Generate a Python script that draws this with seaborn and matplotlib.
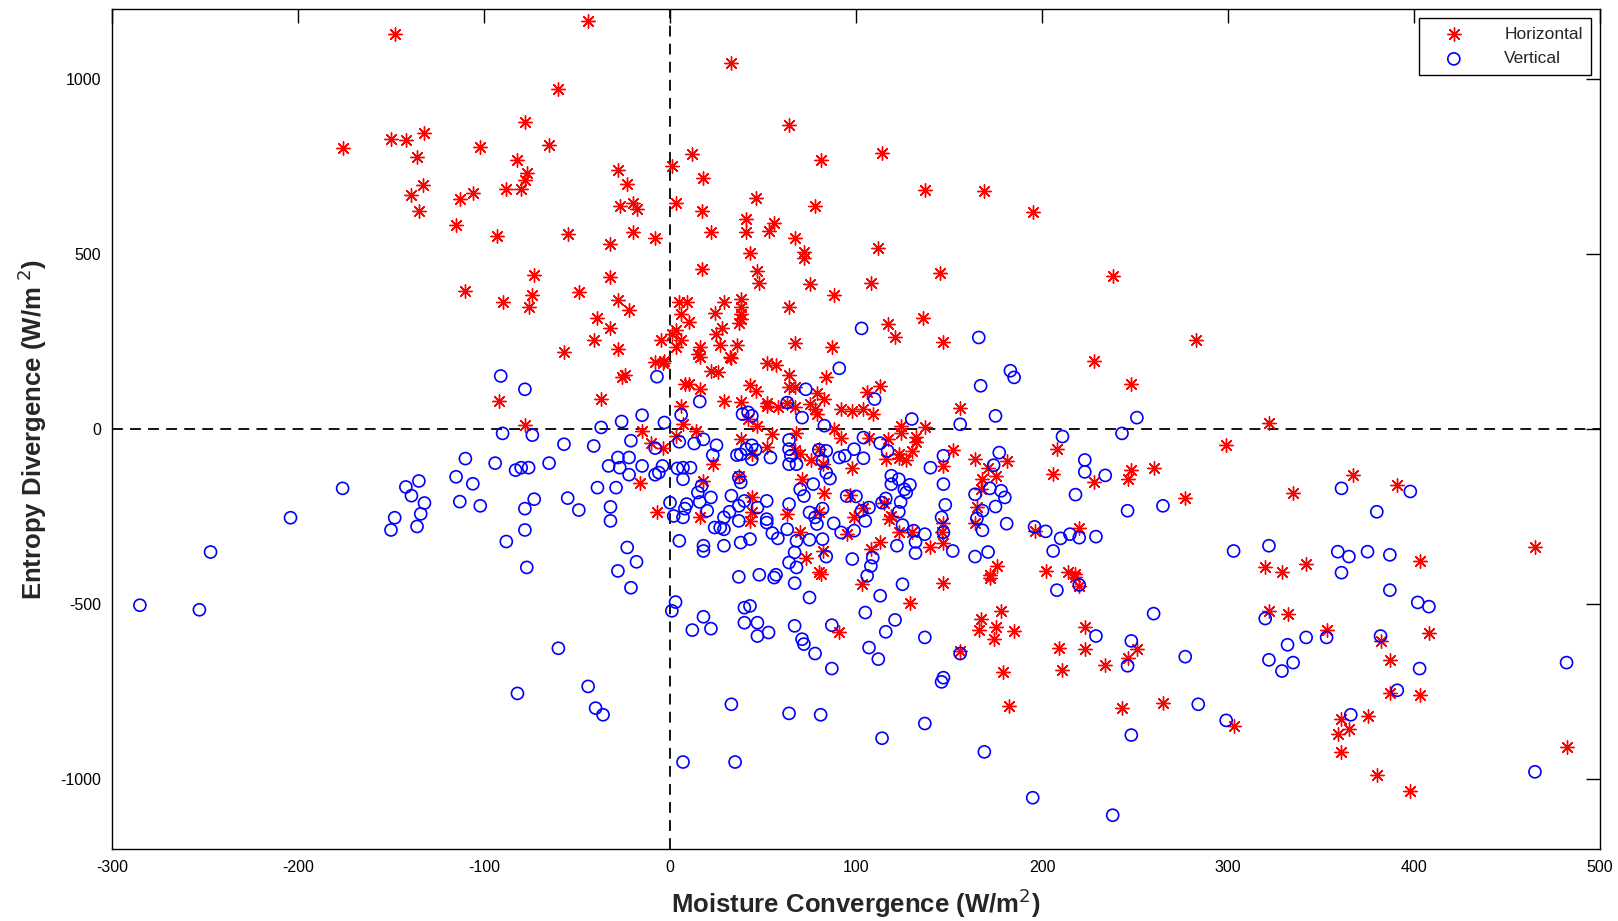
import matplotlib
matplotlib.use("Agg")
import matplotlib.pyplot as plt
import seaborn as sns

# Horizontal (red asterisks)
horiz_x = [-148, -176, -150, -142, -132, -102, -136, -133, -139, -135, -113, -106, -115, -110,
           -44, 33, -60, -78, 64, -65, -82, 12, 81, 1, -28, -77, -78, -23, 18, -88, -80, 46, 3,
           -27, -20, -18, 17, 78, 41, 41, 56, 53, 22, 67, -93, -55, -20, -8, -32, 72, 72, 43,
           -73, -32, 17, 47, 48, 75, 108,
           114, 137, 169, 195, 112, 145, 238,
           -90, -74, -76, -49, -28, -22, -39, -32, -41, -28, -57, -24, -26, -92, -37, -78, -15,
           -10, -4, -16, -7, 5, 9, 6, 10, 3, 6, 3, -5, 1, -8, -3, -4, 8, 10, 16, 6, 7, 14, 3,
           29, 38, 38, 38, 38, 37, 24, 28, 25, 27, 36, 16, 15, 16, 32, 33, 22, 26, 64, 88, 67,
           87, 52, 57, 64, 84, 43, 46, 64, 67, 79, 83, 29, 38, 52, 52, 58, 63, 67, 75, 78, 79,
           92, 98, 104, 106, 42, 47, 55, 68, 88, 92, 38, 52, 44, 67, 70, 76, 80, 82, 98, 23, 18,
           37, 71, 83, 97, 44, 44, 43, 16, 63, 80, 99, 104, 70, 95, 82, 73, 80,
           117, 136, 121, 147, 283, 228, 248, 156, 113, 109, 124, 124, 137, 132, 132, 130, 117,
           107, 123, 123, 127, 116, 152, 147, 164, 171, 175, 168, 181, 167, 165, 164, 147, 146,
           147, 140, 130, 123, 119, 118, 115, 113, 108, 176, 172, 208, 206, 228, 246, 248, 260,
           299, 277, 220, 196, 202, 214, 218,
           322, 335, 367, 391, 465, 320, 329, 342, 403,
           81, 103, 91,
           147, 172, 218, 220, 129, 178, 167, 166, 175, 174, 185, 156, 179, 182, 209, 211, 223,
           223, 234, 246, 251, 243, 265, 303,
           322, 332, 353, 382, 387, 408, 387, 403, 361, 375, 365, 359, 361, 380, 398, 482]
horiz_y = [1129, 804, 829, 825, 846, 807, 778, 699, 669, 622, 659, 676, 583, 395,
           1166, 1047, 971, 879, 870, 812, 769, 787, 769, 753, 740, 731, 712, 702, 719, 685, 685,
           660, 647, 639, 645, 629, 622, 639, 600, 562, 589, 566, 562, 546, 553, 559, 563, 546,
           529, 505, 490, 503, 440, 436, 457, 452, 418, 415, 418,
           789, 684, 680, 621, 519, 447, 439,
           364, 383, 350, 393, 368, 340, 317, 288, 254, 229, 221, 154, 150, 80, 86, 11, -5, -40,
           -55, -155, -236, 364, 364, 328, 305, 284, 255, 235, 254, 271, 192, 194, 188, 128, 130,
           116, 67, 14, -5, -19, 364, 371, 348, 328, 314, 303, 333, 288, 271, 240, 240, 235, 214,
           205, 205, 202, 167, 164, 348, 384, 246, 236, 190, 183, 154, 150, 126, 109, 121, 121,
           102, 86, 81, 79, 76, 65, 62, 76, 62, 71, 57, 43, 57, 52, 59, 105, 29, 10, -14, -10, 0,
           -24, -29, -51, -72, -59, -72, -89, -57, -100, -110, -100, -148, -133, -141, -181,
           -189, -195, -236, -262, -252, -243, -236, -252, -224, -295, -300, -348, -367, -407,
           300, 317, 262, 249, 254, 195, 128, 60, 124, 43, 10, -10, 5, -21, -38, -62, -29, -24,
           -72, -81, -88, -86, -60, -105, -84, -110, -135, -143, -92, -172, -221, -269, -269,
           -295, -324, -338, -295, -295, -248, -257, -210, -322, -343, -392, -417, -57, -127,
           -152, -143, -116, -112, -46, -198, -281, -292, -405, -408, -414,
           17, -183, -131, -160, -338, -395, -408, -384, -376,
           -414, -443, -579,
           -440, -426, -422, -448, -498, -519, -543, -574, -565, -600, -578, -634, -695, -791,
           -624, -688, -565, -629, -674, -654, -629, -797, -781, -848,
           -519, -529, -574, -605, -659, -583, -754, -760, -827, -819, -857, -870, -921, -989,
           -1035, -908]

# Vertical (blue circles)
vert_x = [-110, -115, -106, -135, -142, -139, -132, -134, -148, -150, -136, -113, -102, -176,
          -204, -247,
          -91, -78, -7, 16, 6, -3, -15, -26, -37, -90, -74, -57, -41, -21, -8, 5, 13, 18, 25, 23,
          -94, -83, -80, -76, -65, -33, -28, -22, -27, -22, -15, -4, -6, -8, 4, 7, 11, 7, 15, 17,
          22, 16, 9, 8, 0, 2, 7, 20, 24, 27, 29, 33, 37, 40, 32, 37, 29, 37, 38, 42, 44, 39, 36,
          38, 41, 44, 46, 44, 54, 64, 64, 65, 64, 68, 63, 71, 73, 91, 103, 83, 80, 84, 82, 84,
          86, 77, 70, 72, 94, 99, 104, 91, 104, 95, 100, 103, 75, 82, 78, 79, 52, 47, 52, 52, 55,
          58, 63, 64, 68, 75, 82, 88, 92, 99, 105, 67, 64, 68, 84, 98, 43, 38, 29, 18, 18, 5,
          -23, -18, -28, -32, -32, -39, -29, -55, -49, -73, -78, -78, -88, -77,
          166, 167, 183, 185, 175, 156, 130, 110, 211, 243, 251, 223, 223, 234, 218, 246, 265,
          303, 113, 117, 147, 140, 177, 174, 147, 148, 146, 147, 152, 164, 171, 181, 196, 202,
          210, 215, 220, 229, 206, 164, 172, 178, 180, 175, 168, 165, 168, 119, 123, 119, 129,
          126, 127, 116, 114, 124, 123, 107, 125, 131, 137, 132, 132, 122, 109, 108,
          361, 398, 380, 322, 359, 365, 375, 387, 361,
          -285, -253,
          -21, 3, 1, 18, 12, 22, 37, 48, 56, 57, 67, 75, 40, 43, 40, 47, 47, 53, 67, 71, 72, 78,
          87, 87, 105, 107, 106, -60, -82, -44, -40, -36, 33, 64, 81, 7, 35,
          125, 113, 121, 116, 112, 137, 156, 147, 146, 137, 114, 169, 195, 238, 208, 220, 229,
          248, 246, 260, 277, 284, 248, 299,
          387, 402, 408, 320, 342, 353, 382, 332, 322, 335, 329, 403, 391, 366, 482, 465]
vert_y = [-84, -136, -156, -148, -165, -190, -211, -242, -253, -288, -278, -207, -219, -169,
          -253, -351,
          152, 114, 150, 79, 41, 19, 40, 22, 5, -12, -17, -43, -48, -33, -54, -36, -41, -29, -46,
          -74, -97, -117, -110, -110, -97, -105, -81, -81, -110, -130, -105, -105, -124, -130,
          -112, -110, -110, -143, -181, -162, -195, -208, -214, -227, -210, -248, -252, -233,
          -281, -281, -286, -190, -219, -205, -236, -262, -252, -138, -152, 48, 38, 43, -74,
          -72, -57, -46, -59, -86, -81, -31, -57, -76, -100, -100, 76, 33, 114, 174, 288, 10,
          -59, -62, -90, -124, -141, -157, -172, -191, -76, -57, -83, -81, -24, -191, -192,
          -233, -238, -227, -252, -271, -205, -224, -257, -267, -297, -312, -286, -214, -319,
          -316, -314, -269, -295, -290, -262, -352, -381, -395, -364, -371, -314, -324, -333,
          -333, -348, -319, -338, -379, -405, -222, -262, -167, -167, -197, -231, -200, -227,
          -288, -321, -395,
          262, 124, 167, 148, 38, 14, 29, 86, -21, -12, 33, -88, -122, -132, -187, -233, -219,
          -348, -40, -62, -76, -110, -67, -103, -157, -216, -252, -295, -348, -364, -351, -270,
          -279, -292, -312, -300, -310, -307, -348, -186, -169, -176, -195, -221, -233, -255,
          -289, -133, -143, -157, -159, -172, -181, -198, -210, -208, -236, -224, -274, -290,
          -300, -322, -354, -333, -367, -391,
          -169, -178, -236, -333, -350, -364, -350, -359, -410,
          -503, -516,
          -453, -494, -519, -536, -574, -570, -422, -416, -424, -416, -440, -481, -510, -505,
          -553, -553, -591, -581, -562, -600, -614, -641, -560, -684, -524, -624, -419, -626,
          -755, -735, -797, -816, -786, -812, -816, -951, -951,
          -443, -476, -545, -579, -657, -595, -641, -710, -722, -841, -883, -922, -1053, -1103,
          -460, -445, -591, -605, -676, -527, -650, -786, -874, -832,
          -460, -495, -507, -541, -595, -595, -591, -616, -659, -667, -691, -684, -746, -816,
          -667, -979]

x_ticks = [-300, -200, -100, 0, 100, 200, 300, 400, 500]
y_ticks = [-1000, -500, 0, 500, 1000]

sns.set_theme(style="white")
plt.rcParams['font.family'] = ['Liberation Sans', 'DejaVu Sans']
plt.rcParams['axes.unicode_minus'] = False

fig = plt.figure(figsize=(16.18, 9.21), dpi=100)
ax = fig.add_axes([0.0692, 0.078, 0.9197, 0.912])

sns.scatterplot(x=horiz_x, y=horiz_y, ax=ax, color="red", marker=(8, 2, 0),
                s=95, linewidth=1.0, label="Horizontal", zorder=3)
sns.scatterplot(x=vert_x, y=vert_y, ax=ax, color="blue", facecolor="none",
                edgecolor="blue", marker="o", s=75, linewidth=1.2,
                label="Vertical", zorder=3)

ax.axhline(0, color="black", linestyle=(0, (6, 4)), linewidth=1.3, zorder=2)
ax.axvline(0, color="black", linestyle=(0, (6, 4)), linewidth=1.3, zorder=2)

ax.set_xlim(-300, 500)
ax.set_ylim(-1200, 1200)
ax.set_xticks(x_ticks)
ax.set_yticks(y_ticks)
ax.tick_params(direction="in", length=10, width=1, top=True, right=True,
               labelsize=11.5, colors="black", pad=8)
for sp in ax.spines.values():
    sp.set_color("black")
    sp.set_linewidth(1)

ax.set_xlabel("Moisture Convergence (W/m$^2$)", fontsize=18.5, fontweight="bold", labelpad=8)
ax.set_ylabel("Entropy Divergence (W/m$^{\\ 2}$)", fontsize=18.5, fontweight="bold", labelpad=8)

leg = ax.legend(loc="upper right", frameon=True, fancybox=False, edgecolor="black",
                framealpha=1, fontsize=12.5, borderaxespad=0.5, handletextpad=1.4,
                handlelength=3.0, borderpad=0.5, labelspacing=0.55)
leg.get_frame().set_linewidth(1)

fig.savefig("out.png", dpi=100)
